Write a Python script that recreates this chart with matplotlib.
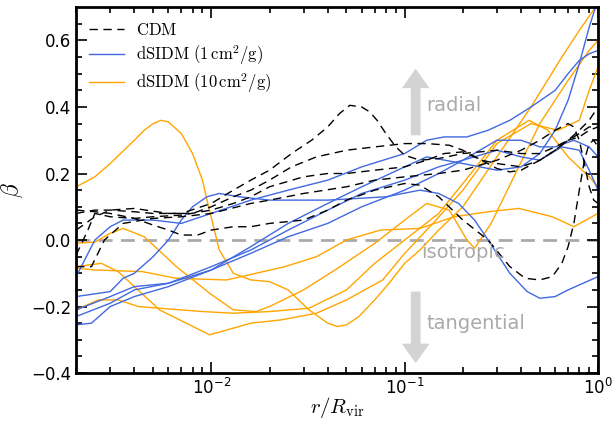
import numpy as np
import matplotlib
matplotlib.use("Agg")
import matplotlib.pyplot as plt

plt.rcParams['mathtext.fontset'] = 'cm'
plt.rcParams['font.family'] = 'DejaVu Sans'

# CDM profiles (r / R_vir, beta)
cdm1_r = [0.002, 0.0025, 0.003, 0.004, 0.005, 0.007, 0.01, 0.013, 0.016, 0.02, 0.026, 0.033, 0.04, 0.046,
          0.052, 0.06, 0.066, 0.072, 0.08, 0.09, 0.1, 0.12, 0.15, 0.2, 0.3, 0.4, 0.5, 0.6, 0.7, 0.8, 0.9, 1.0]
cdm1_b = [0.08, 0.09, 0.09, 0.085, 0.08, 0.08, 0.11, 0.15, 0.18, 0.21, 0.26, 0.30, 0.34, 0.38,
          0.405, 0.40, 0.385, 0.36, 0.32, 0.28, 0.255, 0.24, 0.245, 0.26, 0.27, 0.26, 0.26, 0.28, 0.30, 0.33, 0.36, 0.40]
cdm2_r = [0.002, 0.0025, 0.003, 0.004, 0.006, 0.008, 0.01, 0.013, 0.016, 0.02, 0.026, 0.035, 0.05, 0.07,
          0.1, 0.13, 0.17, 0.2, 0.25, 0.3, 0.4, 0.5, 0.6, 0.7, 0.8, 0.9, 1.0]
cdm2_b = [0.03, 0.07, 0.09, 0.095, 0.08, 0.08, 0.10, 0.13, 0.15, 0.18, 0.22, 0.25, 0.27, 0.28,
          0.29, 0.29, 0.285, 0.27, 0.24, 0.23, 0.22, 0.24, 0.27, 0.30, 0.32, 0.34, 0.34]
cdm3_r = [0.002, 0.0023, 0.0025, 0.003, 0.004, 0.005, 0.007, 0.01, 0.013, 0.016, 0.02, 0.03, 0.04, 0.05,
          0.07, 0.1, 0.13, 0.16, 0.2, 0.25, 0.3, 0.35, 0.4, 0.5, 0.6, 0.7, 0.8, 0.9, 1.0]
cdm3_b = [-0.045, 0.03, 0.08, 0.07, 0.065, 0.07, 0.075, 0.09, 0.11, 0.13, 0.16, 0.19, 0.20, 0.20,
          0.21, 0.22, 0.24, 0.26, 0.265, 0.24, 0.215, 0.205, 0.21, 0.24, 0.27, 0.30, 0.31, 0.33, 0.34]
cdm4_r = [0.002, 0.0025, 0.003, 0.004, 0.005, 0.006, 0.007, 0.0085, 0.01, 0.013, 0.016, 0.02, 0.03, 0.04,
          0.05, 0.07, 0.1, 0.12, 0.15, 0.2, 0.27, 0.35, 0.42, 0.5, 0.58, 0.65, 0.7, 0.75, 0.8, 0.85, 0.9, 0.95, 1.0]
cdm4_b = [0.09, 0.085, 0.08, 0.065, 0.045, 0.03, 0.015, 0.015, 0.03, 0.04, 0.04, 0.05, 0.06, 0.09,
          0.12, 0.15, 0.17, 0.165, 0.13, 0.06, 0.0, -0.08, -0.115, -0.12, -0.11, -0.07, -0.02, 0.05, 0.15, 0.24, 0.29, 0.30, 0.28]
cdm5_r = [0.002, 0.0024, 0.0028, 0.0035, 0.005, 0.007, 0.01, 0.016, 0.02, 0.03, 0.05, 0.07, 0.1, 0.15,
          0.2, 0.3, 0.4, 0.5, 0.6, 0.7, 0.75, 0.8, 0.85, 0.9, 0.95, 1.0]
cdm5_b = [-0.08, -0.08, 0.0, 0.05, 0.065, 0.07, 0.08, 0.11, 0.12, 0.14, 0.16, 0.18, 0.19, 0.20,
          0.21, 0.24, 0.27, 0.30, 0.33, 0.35, 0.34, 0.30, 0.23, 0.16, 0.12, 0.11]

# dSIDM 1 cm^2/g
s1a_r = [0.002, 0.0025, 0.003, 0.0035, 0.005, 0.007, 0.01, 0.016, 0.025, 0.04, 0.06, 0.1, 0.13, 0.16,
         0.21, 0.27, 0.35, 0.45, 0.6, 0.7, 0.8, 0.9, 1.0]
s1a_b = [-0.11, 0.0, 0.04, 0.06, 0.06, 0.05, 0.08, 0.12, 0.15, 0.18, 0.22, 0.26, 0.30, 0.31,
         0.31, 0.33, 0.36, 0.40, 0.45, 0.50, 0.54, 0.56, 0.57]
s1b_r = [0.002, 0.003, 0.0035, 0.004, 0.005, 0.006, 0.007, 0.008, 0.0095, 0.011, 0.014, 0.02, 0.04, 0.08,
         0.12, 0.15, 0.19, 0.23, 0.27, 0.35, 0.43, 0.5, 0.6, 0.7, 1.0]
s1b_b = [-0.17, -0.155, -0.115, -0.1, -0.05, 0.0, 0.06, 0.10, 0.13, 0.14, 0.13, 0.12, 0.12, 0.13,
         0.15, 0.14, 0.11, 0.06, 0.0, -0.1, -0.155, -0.175, -0.17, -0.15, -0.11]
s1c_r = [0.002, 0.003, 0.004, 0.006, 0.01, 0.016, 0.025, 0.04, 0.06, 0.1, 0.15, 0.2, 0.3, 0.4,
         0.5, 0.6, 0.75, 0.9, 1.0]
s1c_b = [-0.23, -0.19, -0.15, -0.13, -0.08, -0.03, 0.03, 0.09, 0.14, 0.18, 0.22, 0.24, 0.30, 0.30,
         0.28, 0.28, 0.30, 0.28, 0.25]
s1d_r = [0.002, 0.0024, 0.003, 0.004, 0.006, 0.01, 0.016, 0.025, 0.04, 0.06, 0.1, 0.13, 0.2, 0.3,
         0.4, 0.5, 0.6, 0.7, 0.8, 0.9, 0.97]
s1d_b = [-0.255, -0.25, -0.2, -0.17, -0.14, -0.09, -0.02, 0.05, 0.11, 0.16, 0.22, 0.25, 0.23, 0.21,
         0.22, 0.26, 0.33, 0.42, 0.53, 0.64, 0.70]
s1e_r = [0.002, 0.003, 0.004, 0.006, 0.01, 0.016, 0.025, 0.04, 0.06, 0.1, 0.15, 0.2, 0.3, 0.4,
         0.5, 0.65, 0.8, 0.9, 1.0]
s1e_b = [-0.21, -0.17, -0.14, -0.13, -0.09, -0.04, 0.01, 0.05, 0.1, 0.15, 0.20, 0.24, 0.27, 0.25,
         0.24, 0.28, 0.27, 0.21, 0.15]

# dSIDM 10 cm^2/g
s10a_r = [0.002, 0.0025, 0.003, 0.004, 0.0045, 0.005, 0.0055, 0.006, 0.007, 0.008, 0.009, 0.0095, 0.011,
          0.013, 0.016, 0.02, 0.025, 0.032, 0.04, 0.045, 0.05, 0.058, 0.07, 0.083, 0.1, 0.12, 0.15, 0.2,
          0.3, 0.45, 0.65, 0.8, 0.97]
s10a_b = [0.16, 0.19, 0.23, 0.30, 0.33, 0.35, 0.36, 0.355, 0.32, 0.26, 0.18, 0.12, -0.03,
          -0.10, -0.12, -0.125, -0.15, -0.21, -0.25, -0.26, -0.255, -0.23, -0.18, -0.13, -0.07, -0.03, 0.03, 0.10,
          0.25, 0.40, 0.55, 0.63, 0.70]
s10b_r = [0.002, 0.0025, 0.003, 0.0035, 0.0045, 0.0066, 0.0098, 0.013, 0.017, 0.02, 0.03, 0.045, 0.07,
          0.1, 0.13, 0.17, 0.21, 0.23, 0.28, 0.36, 0.5, 0.7, 0.9, 1.0]
s10b_b = [-0.01, -0.006, 0.02, 0.035, 0.01, -0.08, -0.16, -0.21, -0.215, -0.2, -0.15, -0.085, -0.01,
          0.06, 0.11, 0.09, 0.0, -0.025, 0.05, 0.18, 0.35, 0.48, 0.57, 0.6]
s10c_r = [0.002, 0.0027, 0.0033, 0.0054, 0.0098, 0.016, 0.023, 0.035, 0.05, 0.077, 0.1, 0.14, 0.2, 0.3,
          0.45, 0.62, 0.8, 0.9, 1.0]
s10c_b = [-0.08, -0.07, -0.095, -0.21, -0.285, -0.25, -0.24, -0.22, -0.18, -0.12, -0.04, 0.05, 0.15, 0.29,
          0.35, 0.33, 0.36, 0.45, 0.52]
s10d_r = [0.002, 0.0026, 0.0033, 0.0042, 0.009, 0.013, 0.02, 0.032, 0.05, 0.07, 0.1, 0.15, 0.22, 0.3,
          0.44, 0.55, 0.7, 0.9, 1.0]
s10d_b = [-0.21, -0.18, -0.18, -0.2, -0.215, -0.22, -0.215, -0.205, -0.15, -0.07, 0.0, 0.08, 0.2, 0.3,
          0.36, 0.33, 0.25, 0.19, 0.16]
s10e_r = [0.002, 0.0025, 0.0044, 0.0066, 0.012, 0.017, 0.024, 0.035, 0.05, 0.075, 0.12, 0.18, 0.27,
          0.39, 0.58, 0.75, 1.0]
s10e_b = [-0.085, -0.09, -0.095, -0.115, -0.12, -0.1, -0.08, -0.05, 0.0, 0.03, 0.035, 0.07, 0.085,
          0.095, 0.07, 0.04, 0.08]

cdm = [(cdm1_r, cdm1_b), (cdm2_r, cdm2_b), (cdm3_r, cdm3_b), (cdm4_r, cdm4_b), (cdm5_r, cdm5_b)]
sidm1 = [(s1a_r, s1a_b), (s1b_r, s1b_b), (s1c_r, s1c_b), (s1d_r, s1d_b), (s1e_r, s1e_b)]
sidm10 = [(s10a_r, s10a_b), (s10b_r, s10b_b), (s10c_r, s10c_b), (s10d_r, s10d_b), (s10e_r, s10e_b)]

blue = '#4169e1'
orange = '#ffa500'

fig = plt.figure(figsize=(6.14, 4.23), dpi=100)
ax = fig.add_axes([0.124, 0.118, 0.850, 0.865])

ax.axhline(0.0, color='#aaaaaa', ls=(0, (5, 3)), lw=2, zorder=1)

for i, (r, b) in enumerate(sidm10):
    ax.plot(r, b, color=orange, lw=1, label=r'$\mathrm{dSIDM}\ (10\,\mathrm{cm^2/g})$' if i == 0 else None)
for i, (r, b) in enumerate(sidm1):
    ax.plot(r, b, color=blue, lw=1, label=r'$\mathrm{dSIDM}\ (1\,\mathrm{cm^2/g})$' if i == 0 else None)
for i, (r, b) in enumerate(cdm):
    ax.plot(r, b, color='k', lw=1, ls=(0, (6, 4)), label=r'$\mathrm{CDM}$' if i == 0 else None)

# arrows and annotations
arrow_kw = dict(width=7, headwidth=20, headlength=14, color='#d3d3d3', lw=0)
ax.annotate('', xy=(0.114, 0.515), xytext=(0.114, 0.315), arrowprops=arrow_kw)
ax.annotate('', xy=(0.114, -0.37), xytext=(0.114, -0.155), arrowprops=arrow_kw)
ax.text(0.13, 0.405, 'radial', color='#aaaaaa', fontsize=14, va='center')
ax.text(0.13, -0.25, 'tangential', color='#aaaaaa', fontsize=14, va='center')
ax.text(0.122, -0.036, 'isotropic', color='#aaaaaa', fontsize=14, va='center')

ax.set_xscale('log')
ax.set_xlim(0.002, 1.0)
ax.set_ylim(-0.4, 0.7)
ax.set_yticks([-0.4, -0.2, 0.0, 0.2, 0.4, 0.6])
ax.set_yticks(np.arange(-0.35, 0.7, 0.05), minor=True)
ax.tick_params(which='both', direction='in', top=True, right=True, labelsize=12, width=1.2)
ax.tick_params(which='major', length=8)
ax.tick_params(which='minor', length=4)
for s in ax.spines.values():
    s.set_linewidth(2)

ax.set_xlabel(r'$r/R_{\rm vir}$', fontsize=15, labelpad=-2)
ax.set_ylabel(r'$\beta$', fontsize=17)

h, l = ax.get_legend_handles_labels()
order = [2, 1, 0]
ax.legend([h[i] for i in order], [l[i] for i in order], loc='upper left', frameon=False,
          fontsize=12, handlelength=2.1, handletextpad=0.7, labelspacing=0.25, borderaxespad=0.4)

fig.savefig('out.png', dpi=100)
